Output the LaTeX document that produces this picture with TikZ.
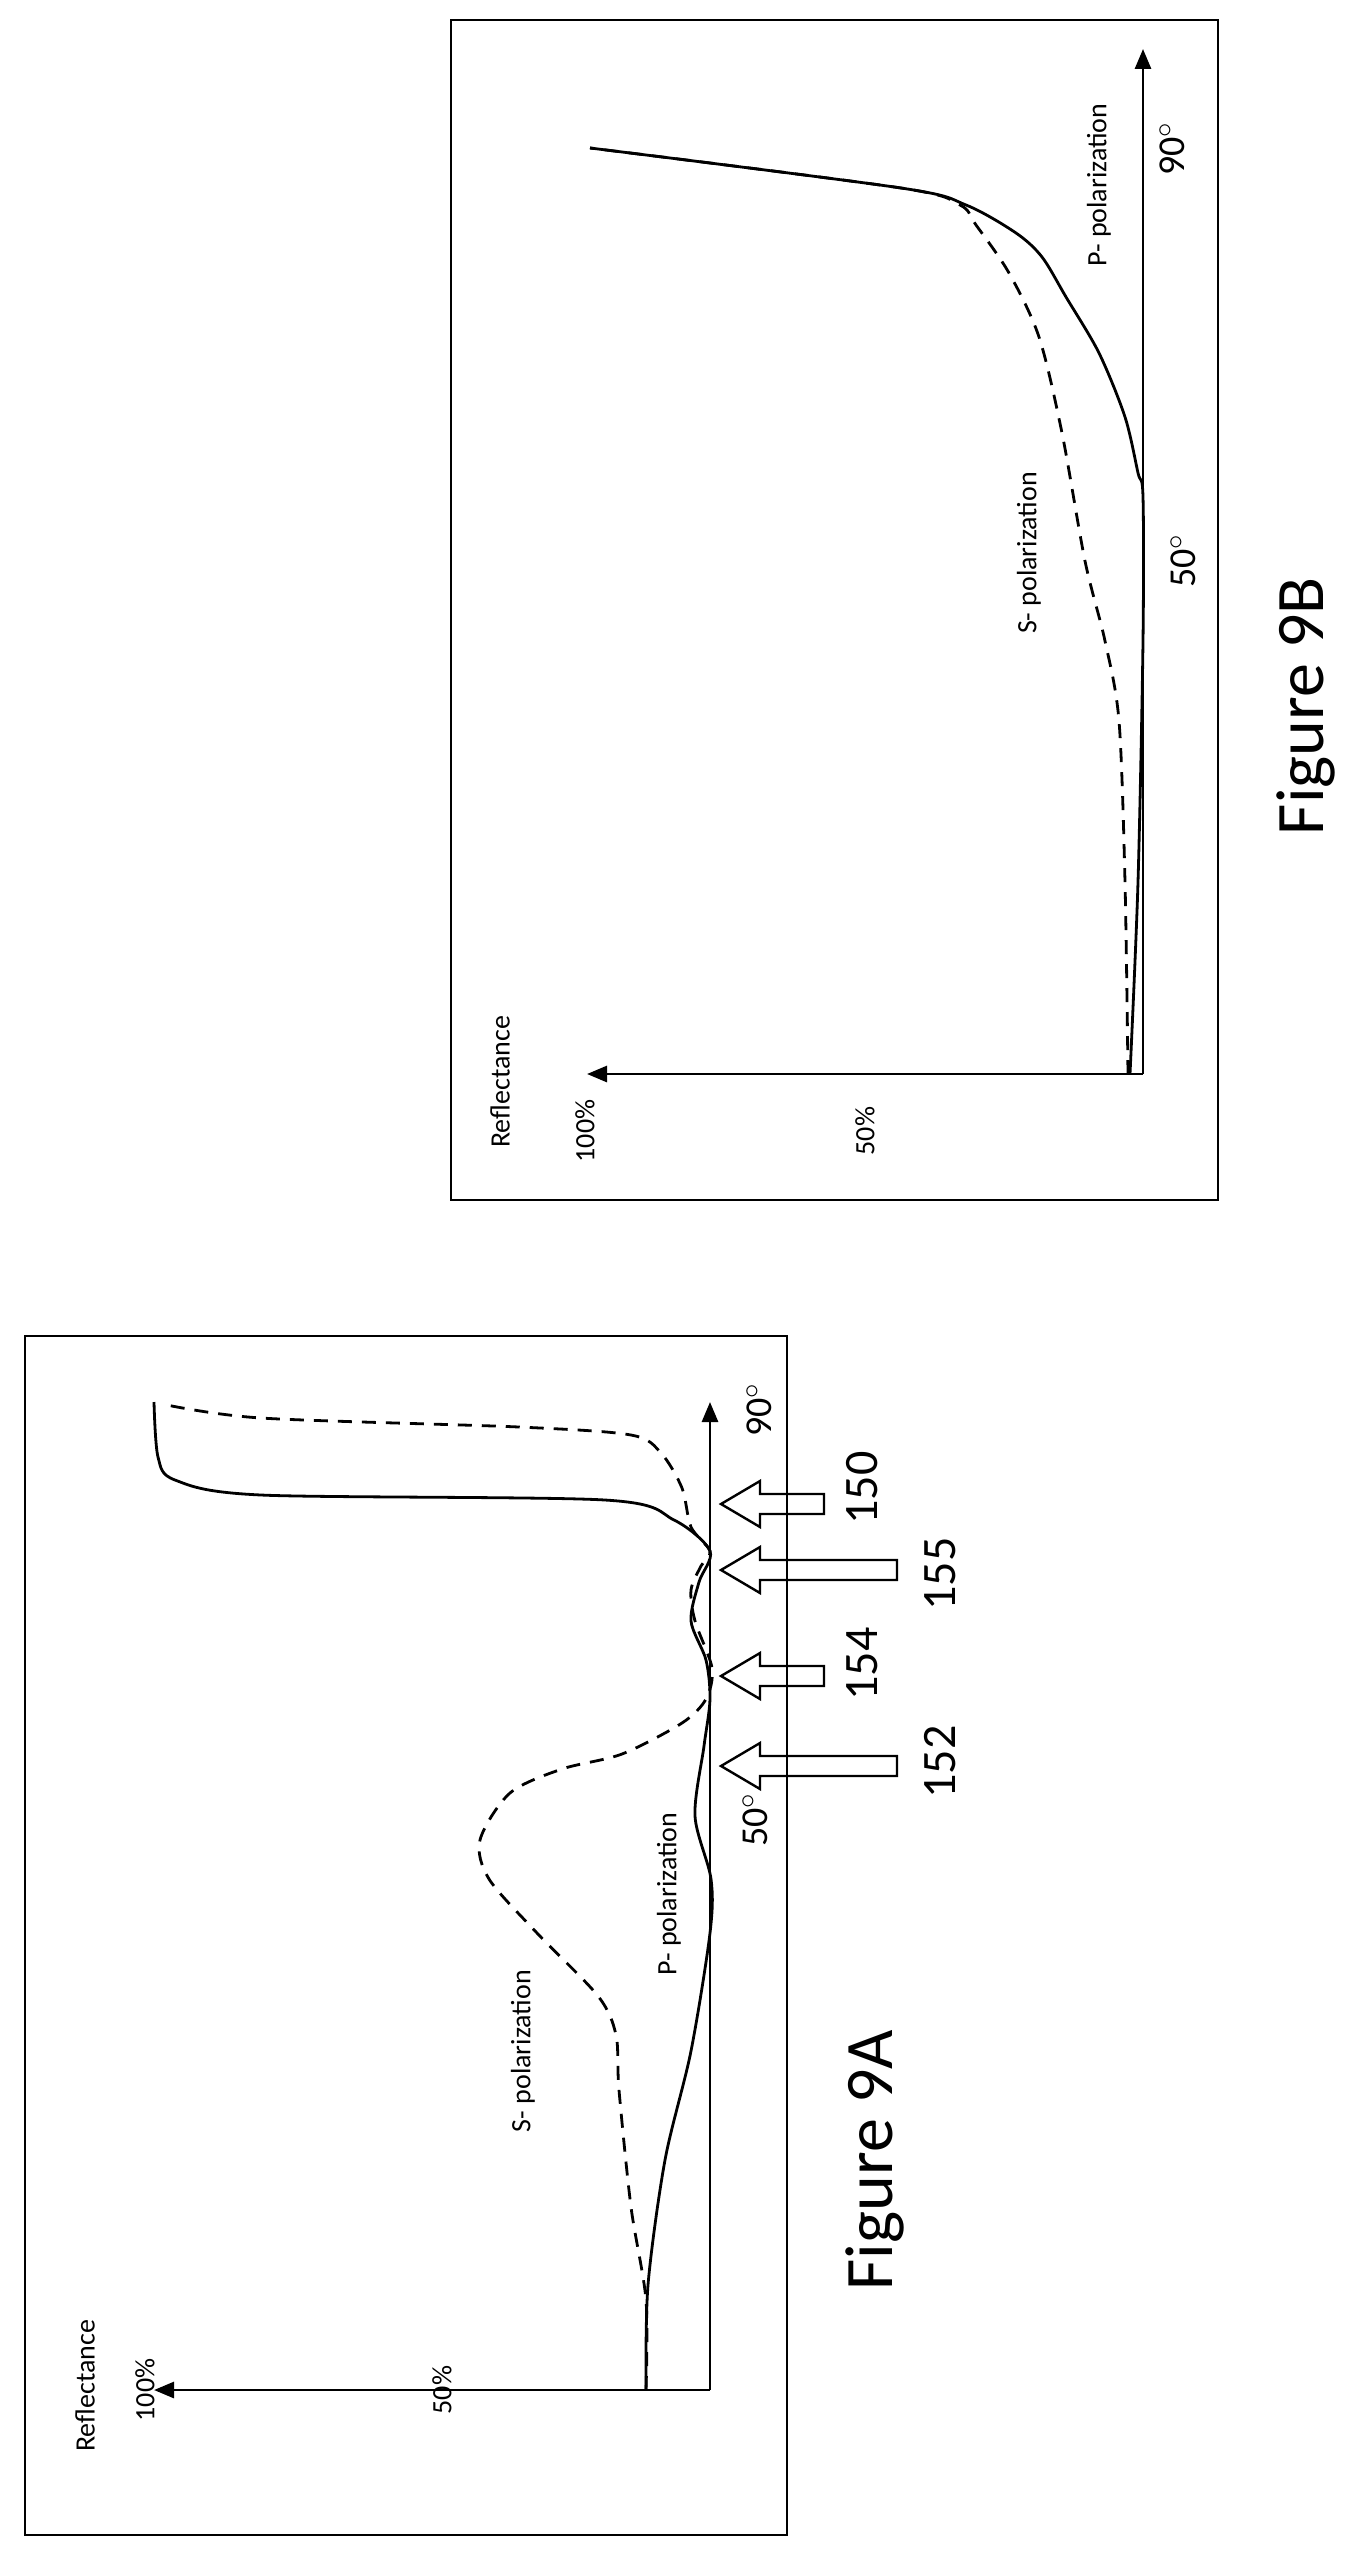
\documentclass[tikz,border=0pt]{standalone}
\usepackage{fontspec}
\setmainfont{Carlito}
\usetikzlibrary{arrows.meta}
\begin{document}
\begin{tikzpicture}[x=0.5pt,y=-0.5pt,
  ln/.style={line width=1.4pt,line join=round},
  dsh/.style={line width=1.4pt,dash pattern=on 7pt off 5pt},
  ax/.style={line width=1.4pt,-{Triangle[length=10pt,width=8pt]}},
  frame/.style={line width=1.2pt},
  lbl/.style={rotate=90,inner sep=0pt,font=\fontsize{14}{16}\selectfont},
  num/.style={rotate=90,inner sep=0pt,font=\fontsize{24}{28}\selectfont},
  deg/.style={rotate=90,inner sep=0pt,font=\fontsize{19}{22}\selectfont},
  fig/.style={rotate=90,inner sep=0pt,font=\fontsize{34}{40}\selectfont},
  blk/.style={line width=1.2pt,line join=miter}]
\useasboundingbox (0,0) rectangle (1360,2569);
% ---------- Figure 9A ----------
\draw[frame] (25,1336) rectangle (787,2535);
\coordinate (oA) at (710,2390);
\coordinate (xA) at (710,1402);
\coordinate (yA) at (154,2390);
\draw[ax] (oA) -- (xA);
\draw[ax] (oA) -- (yA);
\draw[ln] plot[smooth,tension=0.5] coordinates {(646,2390) (648,2285) (665,2160) (691,2051) (710,1933) (711,1879) (695,1816) (704,1746) (710,1699) (706,1660) (691,1621) (699,1582) (710,1551) (674,1520) (605,1500) (261,1495) (175,1480) (158,1457) (154,1402)};
\draw[dsh] plot[smooth,tension=0.5] coordinates {(646,2390) (646,2300) (631,2207) (619,2090) (616,2035) (598,1996) (537,1933) (489,1879) (480,1840) (510,1793) (562,1769) (622,1754) (682,1723) (706,1699) (712,1668) (695,1621) (691,1590) (701,1566) (710,1551) (691,1527) (682,1488) (661,1453) (631,1435) (519,1427) (261,1418) (162,1404)};
% block arrows
\foreach \c/\e in {1504/824,1570/897,1676/824,1766/897}{
  \draw[blk] (721,\c) -- (760,\c-23) -- (760,\c-10) -- (\e,\c-10) -- (\e,\c+10) -- (760,\c+10) -- (760,\c+23) -- cycle;}
\node[num] (n150) at (862,1488) {150};
\node[num] (n155) at (940,1574) {155};
\node[num] (n154) at (862,1664) {154};
\node[num] (n152) at (940,1762) {152};
\node[deg] (a90) at (759,1410) {90$^\circ$};
\node[deg] (a50) at (755,1820) {50$^\circ$};
\node[lbl] (pA) at (669,1894) {P- polarization};
\node[lbl] (sA) at (523,2051) {S- polarization};
\node[fig] (fA) at (875,2160) {Figure 9A};
\node[lbl] (rA) at (85,2386) {Reflectance};
\node[lbl] (hA) at (145,2390) {100\%};
\node[lbl] (mA) at (442,2390) {50\%};
% ---------- Figure 9B ----------
\draw[frame] (451,20) rectangle (1218,1200);
\coordinate (oB) at (1143,1074);
\coordinate (xB) at (1143,49);
\coordinate (yB) at (587,1074);
\draw[ax] (oB) -- (xB);
\draw[ax] (oB) -- (yB);
\draw[ln] plot[smooth,tension=0.5] coordinates {(1130,1074) (1138,882) (1143,641) (1143,497) (1138,473) (1125,417) (1099,353) (1066,297) (1042,257) (1016,233) (966,205) (901,188) (590,148)};
\draw[dsh] plot[smooth,tension=0.5] coordinates {(1128,1074) (1125,882) (1119,721) (1105,641) (1085,561) (1062,433) (1039,337) (1009,273) (976,225) (960,205) (901,188) (590,148)};
\node[lbl] (pB) at (1099,185) {P- polarization};
\node[deg] (b90) at (1172,149) {90$^\circ$};
\node[deg] (b50) at (1183,561) {50$^\circ$};
\node[lbl] (sB) at (1029,553) {S- polarization};
\node[fig] (fB) at (1306,706) {Figure 9B};
\node[lbl] (rB) at (500,1082) {Reflectance};
\node[lbl] (hB) at (585,1131) {100\%};
\node[lbl] (mB) at (865,1131) {50\%};
\end{tikzpicture}
\end{document}
